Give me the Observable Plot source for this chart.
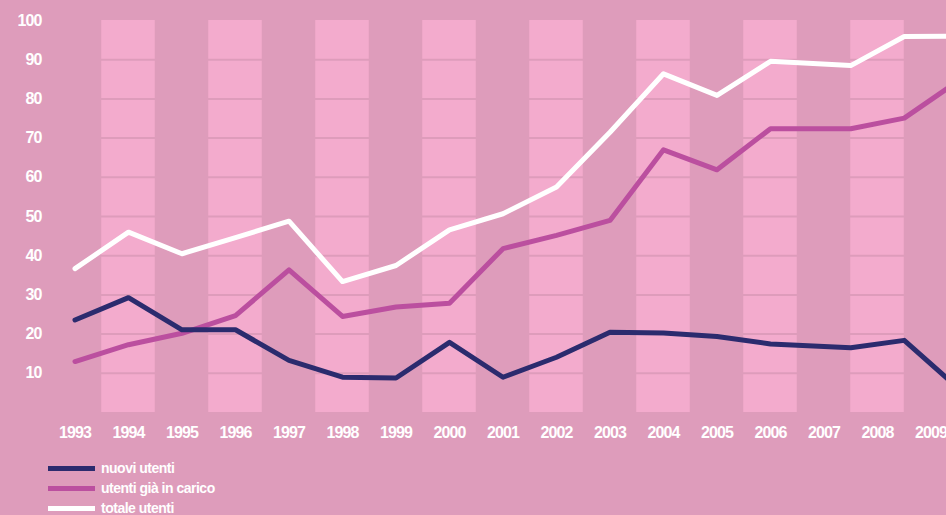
<!DOCTYPE html>
<html>
<head>
<meta charset="utf-8">
<script src="https://cdn.jsdelivr.net/npm/d3@7"></script>
<script src="https://cdn.jsdelivr.net/npm/@observablehq/plot@0.6"></script>
<style>
  html, body { margin: 0; padding: 0; background: #de9cbb; overflow: hidden; width: 946px; height: 515px; }
  #chart { position: relative; width: 946px; height: 515px; }
  .legend { position: absolute; left: 48px; top: 458px; font-family: "Liberation Sans", Arial, sans-serif; font-weight: bold; font-size: 14px; letter-spacing: -0.5px; color: #fff; }
  .legend .row { display: flex; align-items: center; height: 20px; }
  .legend .sw { width: 47px; height: 5px; margin-right: 6px; }
</style>
</head>
<body>
<div id="chart"></div>
<script>
// Axis tick labels
const years = [1993, 1994, 1995, 1996, 1997, 1998, 1999, 2000, 2001, 2002, 2003, 2004, 2005, 2006, 2007, 2008, 2009];
const yTicks = [10, 20, 30, 40, 50, 60, 70, 80, 90, 100];
const gridValues = [10, 20, 30, 40, 50, 60, 70, 80, 90];

// Positions (in years) of the line vertices as drawn in the picture
const xPos = [1993, 1994, 1995, 1996, 1997, 1998, 1999, 2000, 2001, 2002, 2003, 2004, 2005, 2006, 2007.5, 2008.5, 2009.5];

// Series values
const nuoviUtenti = [23.6, 29.3, 21.1, 21.1, 13.3, 9.0, 8.8, 17.9, 9.0, 14.1, 20.5, 20.3, 19.4, 17.5, 16.5, 18.4, 6.3];
const utentiGiaInCarico = [13.0, 17.3, 20.2, 24.7, 36.4, 24.5, 26.9, 27.9, 41.8, 45.2, 49.0, 67.0, 61.9, 72.4, 72.4, 75.1, 84.5];
const totaleUtenti = [36.7, 46.0, 40.5, 44.6, 48.8, 33.4, 37.5, 46.6, 50.7, 57.5, 71.5, 86.4, 80.9, 89.6, 88.5, 95.9, 96.0];

const seriesNames = ["nuovi utenti", "utenti già in carico", "totale utenti"];
const seriesColors = ["#2b2b6e", "#bb4f9f", "#ffffff"];

const bg = "#de9cbb";
const bandColor = "#f3abcd";
const bandYears = years.filter(y => y % 2 === 0);

const chart = Plot.plot({
  width: 946,
  height: 455,
  marginTop: 20,
  marginBottom: 43,
  marginLeft: 41,
  marginRight: 0,
  x: { domain: [1993, 2009], range: [74.5, 930.5] },
  y: { domain: [0, 100] },
  style: {
    background: bg,
    color: "#ffffff",
    fontFamily: "'Liberation Sans', Arial, sans-serif",
    fontSize: "16px",
    fontWeight: "bold",
    letterSpacing: "-0.9px",
    overflow: "hidden"
  },
  marks: [
    Plot.rectY(bandYears, { x1: d => d - 0.5, x2: d => d + 0.5, y1: 0, y2: 100, fill: bandColor }),
    Plot.ruleY(gridValues, { stroke: bg, strokeWidth: 2 }),
    Plot.axisY({ ticks: yTicks, tickSize: 0, tickPadding: 0, tickFormat: d => String(d), label: null }),
    Plot.axisX({ ticks: years, tickSize: 0, tickPadding: 14, tickFormat: d => String(d), label: null }),
    Plot.lineY(utentiGiaInCarico, { x: xPos, stroke: seriesColors[1], strokeWidth: 5, strokeLinejoin: "round" }),
    Plot.lineY(totaleUtenti, { x: xPos, stroke: seriesColors[2], strokeWidth: 5, strokeLinejoin: "round" }),
    Plot.lineY(nuoviUtenti, { x: xPos, stroke: seriesColors[0], strokeWidth: 5, strokeLinejoin: "round" })
  ]
});

const container = document.getElementById("chart");
container.appendChild(chart);

const legend = document.createElement("div");
legend.className = "legend";
seriesNames.forEach((name, i) => {
  const row = document.createElement("div");
  row.className = "row";
  const sw = document.createElement("span");
  sw.className = "sw";
  sw.style.background = seriesColors[i];
  const label = document.createElement("span");
  label.textContent = name;
  row.appendChild(sw);
  row.appendChild(label);
  legend.appendChild(row);
});
container.appendChild(legend);
</script>
</body>
</html>
